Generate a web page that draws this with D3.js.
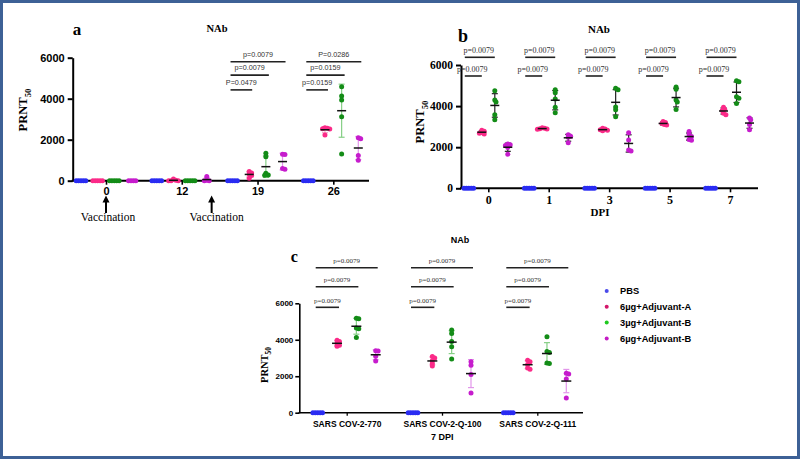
<!DOCTYPE html>
<html><head><meta charset="utf-8">
<script src="https://cdn.jsdelivr.net/npm/d3@7"></script>
<style>body{margin:0;background:#fff} svg{display:block}</style>
</head><body><svg id="chart" width="800" height="459"></svg>
<script>
// ---------------- DATA ----------------
const seriesNames = ["PBS", "6µg+Adjuvant-A", "3µg+Adjuvant-B", "6µg+Adjuvant-B"];
const yTickValues = [0, 2000, 4000, 6000];

// Panel a : days post first vaccination
const daysA = ["0", "12", "19", "26"];
const aPBS  = [[0,0,0,0,0],[0,0,0,0,0],[0,0,0,0,0],[0,0,0,0,0]];
const aA6   = [[0,0,0,0,0],[80,20,0,0,0],[450,380,330,250,120],[2580,2560,2540,2520,2230]];
const aB3   = [[0,0,0,0,0],[0,0,0,0,0],[1340,1170,360,280,270],[4580,4130,3940,3120,1300]];
const aB6   = [[0,0,0,0],[200,20,0,0],[1290,1280,600,560],[2100,2050,1230,1000]];
const pValuesA = [null, null, ["p=0.0079","p=0.0079","P=0.0479"], ["P=0.0286","p=0.0159","p=0.0159"]];
const vaccinationDaysA = ["0", "12"];

// Panel b : DPI
const dpiB = ["0", "1", "3", "5", "7"];
const bPBS = [[0,0,0,0,0],[0,0,0,0,0],[0,0,0,0,0],[0,0,0,0,0],[0,0,0,0,0]];
const bA6  = [[2830,2780,2720,2680,2640],[2950,2920,2900,2890,2870],[2920,2880,2850,2820,2800],[3250,3200,3150,3100,3080],[3950,3850,3780,3650,3580]];
const bB3  = [[4750,4300,4200,3580,3330],[4800,4650,4350,3950,3680],[4870,4790,3960,3820,3480],[4930,4820,4300,4200,3830],[5230,5180,4450,4380,4130]];
const bB6  = [[2150,2120,2080,1980,1660],[2600,2530,2480,2220],[2700,2350,1860,1820],[2760,2600,2520,2370,2340],[3420,3330,3100,2850]];
const pValuesB = [["p=0.0079","p=0.0079"],["p=0.0079","p=0.0079"],["p=0.0079","p=0.0079"],["p=0.0079","p=0.0079"],["p=0.0079","p=0.0079"]];

// Panel c : variants at 7 DPI
const variantsC = ["SARS COV-2-770", "SARS COV-2-Q-100", "SARS COV-2-Q-111"];
const cPBS = [[0,0,0,0,0],[0,0,0,0,0],[0,0,0,0,0]];
const cA6  = [[3980,3900,3800,3700,3650],[3080,3000,2850,2700,2560],[2880,2800,2650,2450,2380]];
const cB3  = [[5180,5150,4650,4600,4130],[4530,4350,3900,3620,2950],[4160,3350,3300,2720,2700]];
const cB6  = [[3400,3380,3100,2830],[2800,2600,2100,1080],[2170,2120,1850,800]];
const pValuesC = [["p=0.0079","p=0.0079","p=0.0079"],["p=0.0079","p=0.0079","p=0.0079"],["p=0.0079","p=0.0079","p=0.0079"]];

// ---------------- STYLE ----------------
const SERIF = "'Liberation Serif','Times New Roman',serif";
const SANS = "'Liberation Sans',Arial,sans-serif";
const dotColors = ["#2a2cf2", "#fb2a88", "#138c17", "#c61ccd"];
const errColors = ["#8a8af5", "#f6a2c6", "#86cf86", "#e296ea"];
const legendColors = ["#4a4aea", "#d3176a", "#1fc91f", "#c41bc4"];

const svg = d3.select("#chart");
svg.append("rect").attr("x", 1.5).attr("y", 1.5).attr("width", 797).attr("height", 456)
  .attr("fill", "#fff").attr("stroke", "#3d6196").attr("stroke-width", 3);

function swarm(values, cx, y, step, dmin) {
  const placed = [];
  values.forEach(v => {
    const py = y(v);
    for (let k = 0; k < 40; k++) {
      const off = (k === 0 ? 0 : (k % 2 ? 1 : -1) * Math.ceil(k / 2)) * step;
      const px = cx + off;
      if (placed.every(q => Math.hypot(q.px - px, q.py - py) >= dmin)) { placed.push({v, px, py}); break; }
    }
  });
  return placed;
}

function drawPanel(cfg, groups, series, pvals) {
  const g = svg.append("g");
  const y = d3.scaleLinear().domain([0, 6000]).range([cfg.y0, cfg.y6000]);
  const xc = d3.scalePoint().domain(groups).range([cfg.cFirst, cfg.cLast]);
  const xs = d3.scalePoint().domain(d3.range(series.length)).range([-cfg.sub, cfg.sub]);

  // y axis
  const ya = g.append("g").attr("transform", `translate(${cfg.x0},0)`)
    .call(d3.axisLeft(y).tickValues(yTickValues).tickSize(cfg.ytick).tickSizeOuter(0)
      .tickPadding(cfg.ypad).tickFormat(d3.format("d")));
  ya.select(".domain").attr("stroke-width", cfg.axisW);
  ya.selectAll(".tick line").attr("stroke-width", cfg.axisW);
  ya.selectAll(".tick text").style("font-family", cfg.yFont).style("font-weight", "bold")
    .style("font-size", cfg.ySize + "px").attr("fill", "#000");

  // x axis
  const xa = g.append("g").attr("transform", `translate(0,${cfg.y0})`)
    .call(d3.axisBottom(xc).tickSize(cfg.xtick).tickSizeOuter(0).tickPadding(cfg.xpad));
  xa.select(".domain").remove();
  xa.selectAll(".tick line").attr("stroke-width", cfg.axisW * 0.8);
  xa.selectAll(".tick text").style("font-family", cfg.xFont).style("font-weight", "bold")
    .style("font-size", cfg.xSize + "px").attr("fill", "#000");
  g.append("line").attr("x1", cfg.x0 - cfg.axisW / 2).attr("x2", cfg.x1)
    .attr("y1", cfg.y0).attr("y2", cfg.y0).attr("stroke", "#000").attr("stroke-width", cfg.axisW);

  // points, mean and SD
  series.forEach((ser, si) => {
    groups.forEach((grp, gi) => {
      const vals = ser[gi];
      const cx = xc(grp) + xs(si);
      const m = d3.mean(vals), sd = d3.deviation(vals) || 0;
      if (m > 0) {
        const ec = cfg.errBlack ? "#222" : errColors[si];
        g.append("line").attr("x1", cx).attr("x2", cx).attr("y1", y(m - sd)).attr("y2", y(m + sd))
          .attr("stroke", ec).attr("stroke-width", 1.2);
        [m - sd, m + sd].forEach(v => g.append("line").attr("x1", cx - cfg.cap).attr("x2", cx + cfg.cap)
          .attr("y1", y(v)).attr("y2", y(v)).attr("stroke", ec).attr("stroke-width", 1.2));
      }
      const pts = swarm(vals, cx, y, 1.2, 2.2);
      g.selectAll(null).data(pts).join("circle")
        .attr("cx", d => d.px).attr("cy", d => d.py).attr("r", cfg.r).attr("fill", dotColors[si]);
      if (m > 0) {
        g.append("line").attr("x1", cx - cfg.meanW).attr("x2", cx + cfg.meanW).attr("y1", y(m)).attr("y2", y(m))
          .attr("stroke", "#111").attr("stroke-width", 1.5);
      }
    });
  });

  // significance brackets
  groups.forEach((grp, gi) => {
    const pv = pvals[gi];
    if (!pv) return;
    pv.forEach((txt, j) => {
      const target = cfg.targets[j];
      const lx1 = xc(grp) + xs(0) + cfg.bStart;
      const lx2 = xc(grp) + xs(target) + cfg.bEnd;
      const ly = y(cfg.levels[j]);
      g.append("line").attr("x1", lx1).attr("x2", lx2).attr("y1", ly).attr("y2", ly)
        .attr("stroke", "#222").attr("stroke-width", 1.6);
      g.append("text").attr("x", (lx1 + lx2) / 2 + cfg.pShift).attr("y", ly - cfg.pGap)
        .attr("text-anchor", "middle").style("font-family", cfg.pFont)
        .style("font-size", cfg.pSize + "px").attr("fill", "#333").text(txt);
    });
  });

  // titles
  g.append("text").attr("x", cfg.letter[0]).attr("y", cfg.letter[1]).text(cfg.letter[2])
    .style("font-family", SERIF).style("font-weight", "bold").style("font-size", cfg.letter[3] + "px");
  g.append("text").attr("x", cfg.title[0]).attr("y", cfg.title[1]).attr("text-anchor", "middle").text("NAb")
    .style("font-family", cfg.title[2]).style("font-weight", "bold").style("font-size", cfg.title[3] + "px");
  const yl = g.append("text").attr("transform", `translate(${cfg.ylab[0]},${cfg.ylab[1]}) rotate(-90)`)
    .attr("text-anchor", "middle").style("font-family", SERIF).style("font-weight", "bold")
    .style("font-size", cfg.ylab[2] + "px");
  yl.append("tspan").text("PRNT");
  yl.append("tspan").attr("dy", cfg.ylab[2] * 0.3).style("font-size", (cfg.ylab[2] * 0.7) + "px").text("50");
  if (cfg.xlab) {
    g.append("text").attr("x", cfg.xlab[0]).attr("y", cfg.xlab[1]).attr("text-anchor", "middle").text(cfg.xlab[2])
      .style("font-family", cfg.xlab[3]).style("font-weight", "bold").style("font-size", cfg.xlab[4] + "px");
  }
  return {xc, y, g};
}

// Panel a
const pa = drawPanel({
  x0: 72.7, x1: 369, y0: 180.7, y6000: 57.7, cFirst: 106, cLast: 333.3, sub: 25,
  axisW: 2, ytick: 5, ypad: 3, yFont: SANS, ySize: 11, xtick: 4, xpad: 3, xFont: SANS, xSize: 11,
  r: 2.5, cap: 3, meanW: 4.5, errBlack: false,
  targets: [3, 2, 1], levels: [5800, 5150, 4430], bStart: -2, bEnd: 3, pGap: 5, pShift: 0, pFont: SANS, pSize: 7.2,
  letter: [72.7, 35, "a", 17], title: [217, 32, SERIF, 10.5], ylab: [27, 110, 12.5]
}, daysA, [aPBS, aA6, aB3, aB6], pValuesA);

// Vaccination arrows (panel a)
vaccinationDaysA.forEach((d, i) => {
  const ax = i === 0 ? pa.xc(d) : (pa.xc("12") + pa.xc("19")) / 2 - 8;
  const tipY = 195.5, baseY = 213;
  pa.g.append("line").attr("x1", ax).attr("x2", ax).attr("y1", tipY + 5).attr("y2", baseY)
    .attr("stroke", "#000").attr("stroke-width", 2);
  pa.g.append("path").attr("d", `M${ax},${tipY} L${ax - 3.5},${tipY + 7} L${ax + 3.5},${tipY + 7} Z`).attr("fill", "#000");
  pa.g.append("text").attr("x", ax + (i === 0 ? 2 : 5)).attr("y", 221).attr("text-anchor", "middle")
    .style("font-family", SERIF).style("font-size", "11.5px").text("Vaccination");
});

// Panel b
drawPanel({
  x0: 461, x1: 758, y0: 188.3, y6000: 65, cFirst: 488.3, cLast: 730, sub: 19.5,
  axisW: 2, ytick: 5, ypad: 3, yFont: SERIF, ySize: 11.5, xtick: 4, xpad: 3, xFont: SERIF, xSize: 12,
  r: 2.5, cap: 3, meanW: 4.5, errBlack: true,
  targets: [2, 1], levels: [6375, 5465], bStart: -4, bEnd: 0, pGap: 4, pShift: -1, pFont: SERIF, pSize: 8,
  letter: [458, 41.7, "b", 18], title: [599, 32.7, SERIF, 11], ylab: [424, 122, 12.5],
  xlab: [600, 216, "DPI", SERIF, 11]
}, dpiB, [bPBS, bA6, bB3, bB6], pValuesB);

// Panel c
drawPanel({
  x0: 299.3, x1: 583, y0: 412.7, y6000: 303.3, cFirst: 346.7, cLast: 537.3, sub: 29,
  axisW: 1.6, ytick: 4, ypad: 2, yFont: SANS, ySize: 8, xtick: 3, xpad: 5, xFont: SANS, xSize: 8.5,
  r: 2.5, cap: 3, meanW: 5, errBlack: false,
  targets: [3, 2, 1], levels: [7950, 6910, 5780], bStart: -2, bEnd: 2, pGap: 4.5, pShift: 0, pFont: SERIF, pSize: 7,
  letter: [290.7, 262, "c", 16], title: [460, 243.3, SANS, 9], ylab: [268, 365, 10.5],
  xlab: [442.3, 440, "7 DPI", SANS, 9]
}, variantsC, [cPBS, cA6, cB3, cB6], pValuesC);

// Legend
const legend = svg.append("g");
seriesNames.forEach((name, i) => {
  const ly = 291 + i * 15.8;
  legend.append("circle").attr("cx", 606.7).attr("cy", ly).attr("r", 2).attr("fill", legendColors[i]);
  legend.append("text").attr("x", 620).attr("y", ly).attr("dy", "0.35em").text(name)
    .style("font-family", SANS).style("font-weight", "bold").style("font-size", "9.3px");
});
</script></body></html>
